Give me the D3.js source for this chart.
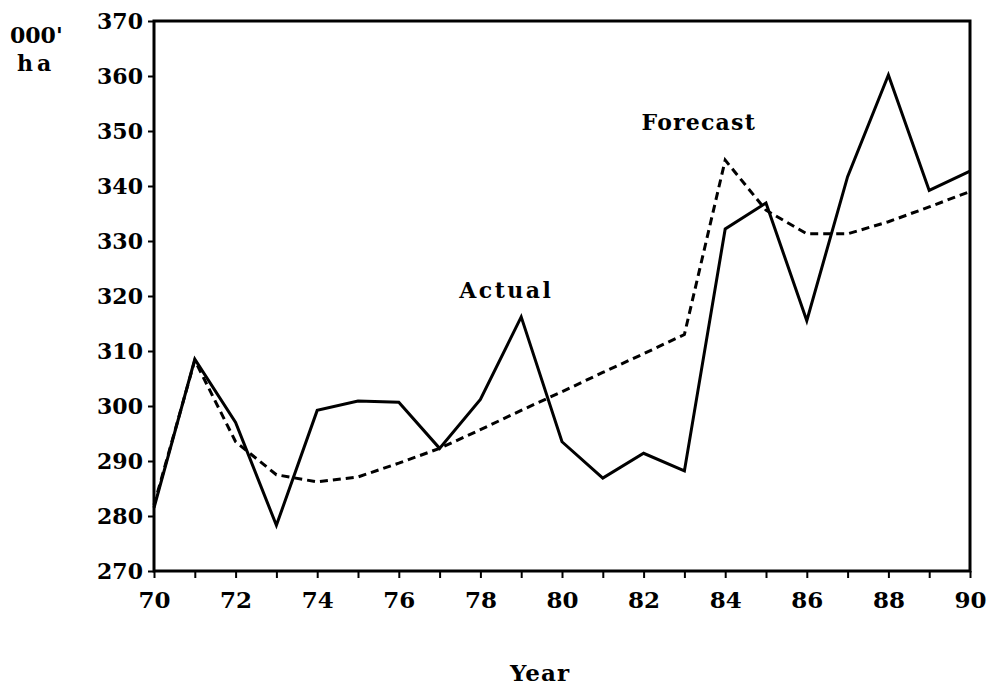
<!DOCTYPE html>
<html>
<head>
<meta charset="utf-8">
<script src="https://cdn.jsdelivr.net/npm/d3@7"></script>
<style>
  body { margin: 0; background: #fff; }
  svg { display: block; }
  text { font-family: "DejaVu Serif", serif; font-weight: bold; fill: #000; }
</style>
</head>
<body>
<svg id="chart" width="987" height="690"></svg>
<script>
const years = [70,71,72,73,74,75,76,77,78,79,80,81,82,83,84,85,86,87,88,89,90];
const actual = [281.5,308.5,297,278.3,299.2,300.9,300.7,292.3,301.2,316.2,293.5,286.9,291.4,288.2,332.2,336.9,315.5,341.7,360.2,339.2,342.7];
const forecast = [282,308.3,293.5,287.5,286.2,287.1,289.6,292.3,295.7,299.2,302.6,306.1,309.5,313,344.7,335.6,331.3,331.3,333.5,336.2,339];
const xTickLabels = [70,72,74,76,78,80,82,84,86,88,90];
const yTickLabels = [270,280,290,300,310,320,330,340,350,360,370];
const seriesLabels = ["Actual", "Forecast"];
const xTitle = "Year";
const yTitle = ["000'", "ha"];

const svg = d3.select("#chart");
const L = 154, R = 970, T = 21, B = 571;
const x = d3.scaleLinear().domain([70, 90]).range([L, R]);
const y = d3.scaleLinear().domain([270, 370]).range([B, T]);

// frame
svg.append("rect").attr("x", L).attr("y", T).attr("width", R - L).attr("height", B - T)
  .attr("fill", "none").attr("stroke", "#000").attr("stroke-width", 3);

// x axis
const xAxis = d3.axisBottom(x).tickValues(years).tickSize(7).tickFormat(d => xTickLabels.includes(d) ? d : "");
const gx = svg.append("g").attr("transform", `translate(0,${B})`).call(xAxis);
gx.select(".domain").remove();
gx.selectAll(".tick line").attr("stroke", "#000").attr("stroke-width", 2);
gx.selectAll(".tick text").attr("font-size", 23).attr("font-family", "DejaVu Serif").attr("font-weight", "bold").attr("y", 21).attr("dy", "0.71em").attr("fill", "#000");

// y axis
const yAxis = d3.axisLeft(y).tickValues(yTickLabels).tickSize(6);
const gy = svg.append("g").attr("transform", `translate(${L},0)`).call(yAxis);
gy.select(".domain").remove();
gy.selectAll(".tick line").attr("stroke", "#000").attr("stroke-width", 2);
gy.selectAll(".tick text").attr("font-size", 22).attr("font-family", "DejaVu Serif").attr("font-weight", "bold").attr("x", -11).attr("dy", "0.36em").attr("fill", "#000");

// lines
const line = d3.line().x((d, i) => x(years[i])).y(d => y(d));
svg.append("path").datum(forecast).attr("d", line).attr("fill", "none")
  .attr("stroke", "#000").attr("stroke-width", 3).attr("stroke-dasharray", "8,5");
svg.append("path").datum(actual).attr("d", line).attr("fill", "none")
  .attr("stroke", "#000").attr("stroke-width", 3).attr("stroke-linejoin", "miter");

// series labels
svg.append("text").attr("x", x(77.48)).attr("y", y(319.6)).attr("font-size", 22).attr("letter-spacing", 2.5).text(seriesLabels[0]);
svg.append("text").attr("x", x(81.95)).attr("y", y(350.2)).attr("font-size", 22).attr("letter-spacing", 1.2).text(seriesLabels[1]);

// titles
svg.append("text").attr("x", 540).attr("y", 681).attr("text-anchor", "middle").attr("font-size", 23).attr("letter-spacing", 1).text(xTitle);
svg.append("text").attr("x", 10).attr("y", 43).attr("font-size", 22).text(yTitle[0]);
svg.append("text").attr("x", 17).attr("y", 71).attr("font-size", 22).attr("letter-spacing", 4).text(yTitle[1]);
</script>
</body>
</html>
